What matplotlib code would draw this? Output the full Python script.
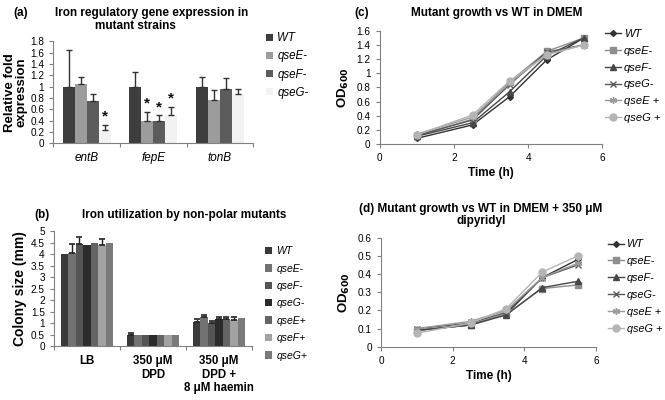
import numpy as np
import matplotlib.pyplot as plt
from matplotlib.ticker import FuncFormatter

plt.rcParams['font.family'] = ['Liberation Sans', 'DejaVu Sans']
plt.rcParams['hatch.color'] = '#c8c8c8'
plt.rcParams['hatch.linewidth'] = 0.6

# (a) relative fold expression
genes = ['entB', 'fepE', 'tonB']
strains_a = ['WT', 'qseE-', 'qseF-', 'qseG-']
expr = {
    'WT':    [1.00, 1.00, 1.00],
    'qseE-': [1.04, 0.40, 0.76],
    'qseF-': [0.74, 0.40, 0.96],
    'qseG-': [0.235, 0.50, 0.87],
}
expr_err = {
    'WT':    [0.65, 0.25, 0.17],
    'qseE-': [0.12, 0.15, 0.17],
    'qseF-': [0.12, 0.09, 0.19],
    'qseG-': [0.085, 0.145, 0.08],
}
signif = {
    'WT':    [False, False, False],
    'qseE-': [False, True, False],
    'qseF-': [False, True, False],
    'qseG-': [True, True, False],
}

# (b) colony size
media = ['LB', '350 \u03bcM\nDPD', '350 \u03bcM\nDPD +\n8 \u03bcM haemin']
strains_b = ['WT', 'qseE-', 'qseF-', 'qseG-', 'qseE+', 'qseF+', 'qseG+']
colony = {
    'WT':    [4.00, 0.50, 1.07],
    'qseE-': [4.04, 0.50, 1.27],
    'qseF-': [4.46, 0.50, 1.00],
    'qseG-': [4.41, 0.50, 1.17],
    'qseE+': [4.49, 0.50, 1.17],
    'qseF+': [4.41, 0.50, 1.15],
    'qseG+': [4.49, 0.50, 1.24],
}
colony_err = {
    'WT':    [0.00, 0.10, 0.13],
    'qseE-': [0.39, 0.00, 0.08],
    'qseF-': [0.29, 0.00, 0.09],
    'qseG-': [0.00, 0.00, 0.10],
    'qseE+': [0.00, 0.00, 0.10],
    'qseF+': [0.26, 0.00, 0.12],
    'qseG+': [0.00, 0.00, 0.00],
}

# (c), (d) growth curves
time_h = [1, 2.5, 3.5, 4.5, 5.5]
strains_cd = ['WT', 'qseE-', 'qseF-', 'qseG-', 'qseE +', 'qseG +']
od_dmem = {
    'WT':     [0.08, 0.27, 0.67, 1.19, 1.50],
    'qseE-':  [0.12, 0.35, 0.88, 1.31, 1.50],
    'qseF-':  [0.11, 0.30, 0.74, 1.25, 1.50],
    'qseG-':  [0.12, 0.34, 0.84, 1.30, 1.40],
    'qseE +': [0.14, 0.38, 0.86, 1.27, 1.40],
    'qseG +': [0.13, 0.41, 0.89, 1.26, 1.40],
}
od_dip = {
    'WT':     [0.09, 0.12, 0.18, 0.38, 0.48],
    'qseE-':  [0.09, 0.12, 0.18, 0.32, 0.34],
    'qseF-':  [0.09, 0.12, 0.175, 0.325, 0.36],
    'qseG-':  [0.10, 0.13, 0.19, 0.38, 0.45],
    'qseE +': [0.10, 0.14, 0.20, 0.38, 0.46],
    'qseG +': [0.075, 0.13, 0.21, 0.41, 0.50],
}

col_a = {'WT': '#3e3e3e', 'qseE-': '#9c9c9c', 'qseF-': '#5c5c5c', 'qseG-': '#f2f2f2'}
col_b = {'WT': '#3a3a3a', 'qseE-': '#727272', 'qseF-': '#555555', 'qseG-': '#2b2b2b',
         'qseE+': '#646464', 'qseF+': '#a2a2a2', 'qseG+': '#7a7a7a'}
line_style = {
    'WT':     ('#333333', 'D', 3),
    'qseE-':  ('#8e8e8e', 's', 4),
    'qseF-':  ('#474747', '^', 4),
    'qseG-':  ('#5a5a5a', 'x', 4),
    'qseE +': ('#9a9a9a', (6, 2, 0), 5),
    'qseG +': ('#b4b4b4', 'o', 5),
}

fig = plt.figure(figsize=(6.65, 4.0), dpi=100)
TICK = 7.2
TITLE = 8.5


def excel_axes(ax):
    for s in ['top', 'right']:
        ax.spines[s].set_visible(False)
    for s in ['left', 'bottom']:
        ax.spines[s].set_color('#808080')
        ax.spines[s].set_linewidth(0.8)
    ax.tick_params(direction='out', length=3, width=0.8, color='#808080', labelsize=TICK)


def category_axis(ax, labels, **kw):
    n = len(labels)
    ax.set_xlim(0, n)
    ax.set_xticks(np.arange(n + 1))
    ax.set_xticklabels([''] * (n + 1))
    ax.set_xticks(np.arange(n) + 0.5, minor=True)
    ax.set_xticklabels(labels, minor=True, **kw)
    ax.tick_params(axis='x', which='minor', length=0, pad=6)


gfmt = FuncFormatter(lambda v, p: ('%g' % round(v, 2)))

# ---- (a)
ax = fig.add_axes([0.080, 0.642, 0.301, 0.255])
excel_axes(ax)
w = 0.18
centers = np.arange(len(genes)) + 0.5
for i, s in enumerate(strains_a):
    x = centers + (i - 1.5) * w
    ax.bar(x, expr[s], w, color=col_a[s], label=s,
           hatch='////' if s == 'qseG-' else None, edgecolor='none', zorder=2)
    ax.errorbar(x, expr[s], yerr=[np.zeros(len(genes)), expr_err[s]], fmt='none',
                ecolor='#333333', elinewidth=1.0, capsize=2.5, capthick=1.0, zorder=3)
    for xi, v, e, sg in zip(x, expr[s], expr_err[s], signif[s]):
        if sg:
            ax.text(xi, v + e + 0.02, '*', ha='center', va='bottom', fontsize=11,
                    fontweight='bold', color='#111111')
ax.set_ylim(0, 1.8)
ax.set_yticks(np.arange(0, 1.81, 0.2))
ax.yaxis.set_major_formatter(gfmt)
category_axis(ax, genes, fontstyle='italic', fontsize=8.5)
ax.set_ylabel('Relative fold\nexpression', fontsize=9.5, fontweight='bold', labelpad=2,
              linespacing=0.95)
h, l = ax.get_legend_handles_labels()
fig.legend(h, l, loc='upper left', bbox_to_anchor=(0.384, 0.945), frameon=False,
           handlelength=0.6, handleheight=0.6, handletextpad=0.4,
           labelspacing=0.53, prop={'style': 'italic', 'size': 8.3})
fig.text(0.020, 0.982, '(a)', fontsize=TITLE, fontweight='bold', va='top')
fig.text(0.228, 0.982, 'Iron regulatory gene expression in', fontsize=TITLE,
         fontweight='bold', va='top', ha='center')
fig.text(0.203, 0.950, 'mutant strains', fontsize=TITLE, fontweight='bold', va='top', ha='center')

# ---- (b)
ax = fig.add_axes([0.081, 0.134, 0.298, 0.288])
excel_axes(ax)
w = 0.113
centers = np.arange(len(media)) + 0.5
for i, s in enumerate(strains_b):
    x = centers + (i - 3) * w
    ax.bar(x, colony[s], w, color=col_b[s], label=s, edgecolor='none', zorder=2)
    e = np.array(colony_err[s])
    m = e > 0
    ax.errorbar(x[m], np.array(colony[s])[m], yerr=[np.zeros(m.sum()), e[m]], fmt='none',
                ecolor='#222222', elinewidth=1.0, capsize=2.2, capthick=1.2, zorder=3)
ax.set_ylim(0, 5)
ax.set_yticks(np.arange(0, 5.01, 0.5))
ax.yaxis.set_major_formatter(gfmt)
category_axis(ax, media, fontweight='bold', fontsize=8.3, linespacing=1.2)
for t in ax.get_xticklabels(minor=True):
    t.set_va('top')
ax.set_ylabel('Colony size (mm)', fontsize=10, fontweight='bold', labelpad=3)
h, l = ax.get_legend_handles_labels()
fig.legend(h, l, loc='upper left', bbox_to_anchor=(0.384, 0.408), frameon=False,
           handlelength=0.7, handleheight=0.7, handletextpad=0.4,
           labelspacing=0.71, prop={'style': 'italic', 'size': 7.5})
fig.text(0.052, 0.462, '(b)', fontsize=TITLE, fontweight='bold', va='center')
fig.text(0.277, 0.462, 'Iron utilization by non-polar mutants', fontsize=TITLE,
         fontweight='bold', va='center', ha='center')


def growth(ax, data, ymax, step):
    excel_axes(ax)
    for s in strains_cd:
        c, mk, ms = line_style[s]
        ax.plot(time_h, data[s], color=c, marker=mk, markersize=ms, lw=1.0,
                markeredgewidth=1.0, label=s)
    ax.set_xlim(0, 6)
    ax.set_xticks([0, 2, 4, 6])
    ax.set_ylim(0, ymax)
    ax.set_yticks(np.arange(0, ymax + 1e-9, step))
    ax.yaxis.set_major_formatter(gfmt)
    ax.set_xlabel('Time (h)', fontsize=8.5, fontweight='bold', labelpad=3)
    ax.set_ylabel(r'OD$_{\mathbf{600}}$', fontsize=9.5, fontweight='bold', labelpad=4)


# ---- (c)
ax = fig.add_axes([0.571, 0.640, 0.335, 0.283])
growth(ax, od_dmem, 1.6, 0.2)
h, l = ax.get_legend_handles_labels()
fig.legend(h, l, loc='upper left', bbox_to_anchor=(0.894, 0.953), frameon=False,
           handlelength=1.5, handletextpad=0.25, labelspacing=0.62,
           prop={'style': 'italic', 'size': 8.0})
fig.text(0.533, 0.982, '(c)', fontsize=TITLE, fontweight='bold', va='top')
fig.text(0.747, 0.982, 'Mutant growth vs WT in DMEM', fontsize=TITLE, fontweight='bold',
         va='top', ha='center')

# ---- (d)
ax = fig.add_axes([0.573, 0.133, 0.323, 0.273])
growth(ax, od_dip, 0.6, 0.1)
h, l = ax.get_legend_handles_labels()
fig.legend(h, l, loc='upper left', bbox_to_anchor=(0.899, 0.426), frameon=False,
           handlelength=1.5, handletextpad=0.25, labelspacing=0.64,
           prop={'style': 'italic', 'size': 7.8})
fig.text(0.723, 0.462, '(d) Mutant growth vs WT in DMEM + 350 \u03bcM\ndipyridyl',
         fontsize=TITLE, fontweight='bold', va='center', ha='center', linespacing=1.05)

fig.savefig('out.png', dpi=100)
